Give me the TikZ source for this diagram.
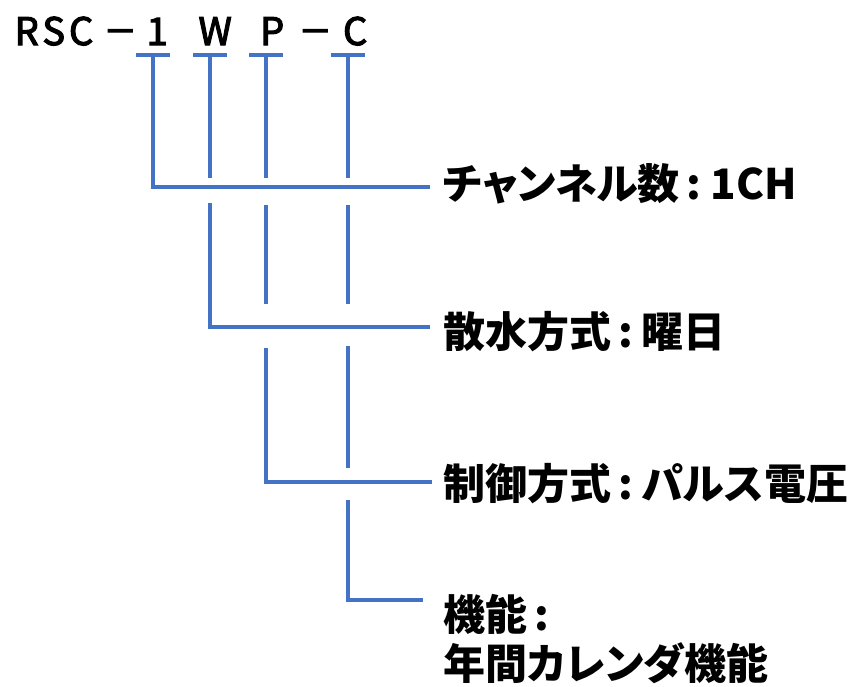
\documentclass[tikz,border=0pt]{standalone}
\usepackage{fontspec}
\setmainfont{Noto Sans CJK JP}[RawFeature=+palt]
\newfontfamily\topfont{Noto Sans CJK JP}[FakeBold=3]
\definecolor{lineblue}{HTML}{4472C4}
\tikzset{
  conn/.style={draw=lineblue, line width=4pt},
  lab/.style={anchor=west, inner sep=0pt, font=\fontsize{42}{49}\selectfont\bfseries},
}
\newcommand\cb[2]{\makebox[#1pt][c]{#2}}
\newcommand\dsh{\scalebox{0.88}[1]{－}}
\newcommand\cln{\hspace{7pt}:\hspace{9pt}}
\begin{document}
\begin{tikzpicture}[x=1pt,y=-1pt]
\useasboundingbox (0,0) rectangle (859,686);
\node[anchor=base west, inner sep=0pt, font=\topfont\fontsize{38}{44}\selectfont] (code) at (13,45)
  {\cb{27}{R}\cb{27}{S}\cb{28}{C}\hspace{5pt}\cb{40}{\dsh}\cb{34}{1}\hspace{21pt}\cb{40}{W}\hspace{17pt}\cb{40}{P}\hspace{3pt}\cb{40}{\dsh}\cb{40}{C}};

\node[lab] (l1) at (443,184) {チャンネル数\cln 1CH};
\node[lab] (l2) at (443,332) {散水方式\cln 曜日};
\node[lab] (l3) at (443,484) {制御方式\cln パルス電圧};
\node[lab, anchor=north west, align=left] (l4) at (443,594) {機能\hspace{7pt}:\\年間カレンダ機能};

% caps
\foreach \n/\x in {1/153,2/210,3/266,4/348}{
  \coordinate (t\n) at (\x,55);
  \coordinate (t\n l) at (\x-17,55);
  \coordinate (t\n r) at (\x+17,55);
}
\foreach \n in {1,2,3,4}{ \draw[conn] (t\n l) -- (t\n r); }

% line 1
\coordinate (e1) at (430,187);
\draw[conn] (t1) |- (e1);
% line 2
\coordinate (a2) at (210,178);
\coordinate (b2) at (210,203);
\coordinate (e2) at (430,327);
\draw[conn] (t2) -- (a2);
\draw[conn] (b2) |- (e2);
% line 3
\coordinate (a3) at (266,178);
\coordinate (b3) at (266,205);
\coordinate (c3) at (266,304);
\coordinate (d3) at (266,348);
\coordinate (e3) at (432,482);
\draw[conn] (t3) -- (a3);
\draw[conn] (b3) -- (c3);
\draw[conn] (d3) |- (e3);
% line 4
\coordinate (a4) at (348,178);
\coordinate (b4) at (348,205);
\coordinate (c4) at (348,304);
\coordinate (d4) at (348,346);
\coordinate (f4) at (348,468);
\coordinate (g4) at (348,500);
\coordinate (e4) at (423,600);
\draw[conn] (t4) -- (a4);
\draw[conn] (b4) -- (c4);
\draw[conn] (d4) -- (f4);
\draw[conn] (g4) |- (e4);
\end{tikzpicture}
\end{document}
